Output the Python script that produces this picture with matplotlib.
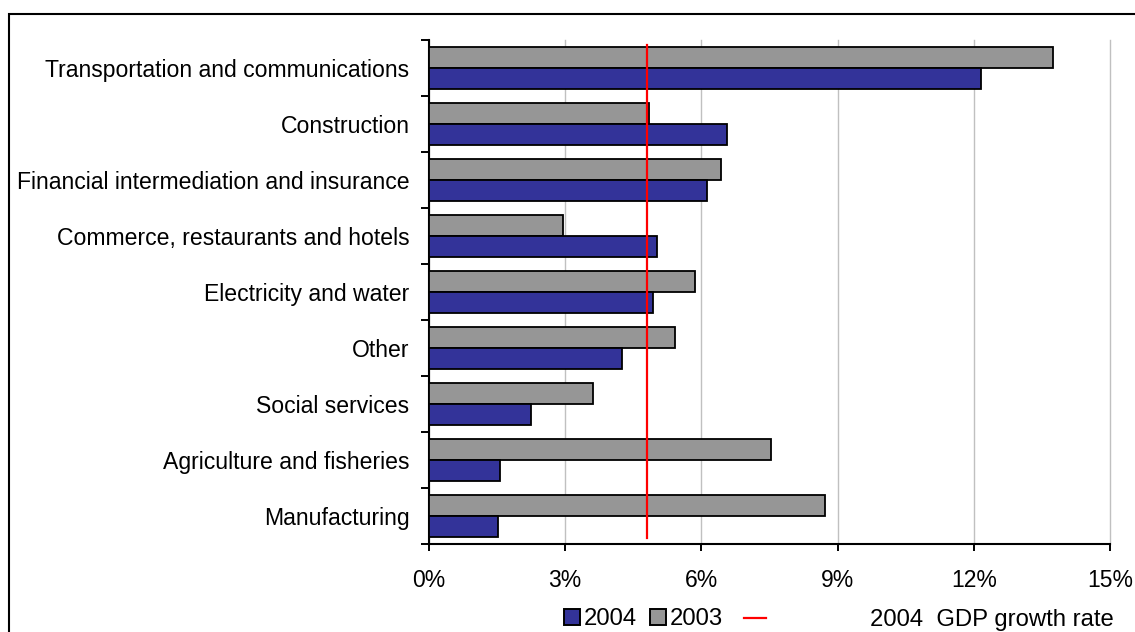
import matplotlib
matplotlib.use("Agg")
import matplotlib.pyplot as plt
import numpy as np
from matplotlib.lines import Line2D
from matplotlib.patches import Rectangle
from matplotlib.ticker import FixedLocator, FuncFormatter

plt.rcParams['font.family'] = ['Liberation Sans', 'DejaVu Sans']

# Sector growth rates (%), listed top to bottom
sectors = [
    "Transportation and communications",
    "Construction",
    "Financial intermediation and insurance",
    "Commerce, restaurants and hotels",
    "Electricity and water",
    "Other",
    "Social services",
    "Agriculture and fisheries",
    "Manufacturing",
]
growth_2003 = [13.74, 4.84, 6.43, 2.95, 5.86, 5.42, 3.61, 7.54, 8.73]
growth_2004 = [12.15, 6.56, 6.12, 5.02, 4.93, 4.26, 2.24, 1.57, 1.53]
gdp_growth_2004 = 4.80
x_ticks = [0, 3, 6, 9, 12, 15]

W, H = 1135, 632
fig = plt.figure(figsize=(W / 100, H / 100), dpi=100)
ax = fig.add_axes([429 / W, 1 - 544 / H, (1110 - 429) / W, (544 - 40) / H])

BLUE = "#333399"
GREY = "#969696"
FS_TICK = 16.5
FS_CAT = 16.6
FS_LEG = 17.2

y = np.arange(len(sectors))
h = 0.38
ax.barh(y - h / 2, growth_2003, height=h, color=GREY, edgecolor="black",
        linewidth=1.3, zorder=3)
ax.barh(y + h / 2, growth_2004, height=h, color=BLUE, edgecolor="black",
        linewidth=1.3, zorder=3)
ax.axvline(gdp_growth_2004, ymin=0.012, ymax=0.99, color="red", lw=1.6, zorder=4)

ax.set_xlim(0, 15)
ax.set_ylim(len(sectors) - 0.5, -0.5)

ax.xaxis.set_major_locator(FixedLocator(x_ticks))
ax.xaxis.set_major_formatter(FuncFormatter(lambda v, p: f"{v:.0f}%"))
ax.tick_params(axis="x", direction="out", length=5, width=1.4, pad=13,
               labelsize=FS_TICK)
ax.grid(axis="x", color="#c0c0c0", lw=1.0, zorder=0)
for gl in ax.get_xgridlines():
    gl.set_clip_on(False)

ax.set_yticks(y)
ax.set_yticklabels(sectors)
ax.set_yticks(np.arange(len(sectors) + 1) - 0.5, minor=True)
ax.tick_params(axis="y", which="major", length=0, pad=14, labelsize=FS_CAT)
ax.tick_params(axis="y", which="minor", direction="out", length=6, width=1.4)

for s in ("top", "right"):
    ax.spines[s].set_visible(False)
for s in ("left", "bottom"):
    ax.spines[s].set_linewidth(1.5)

# Outer chart frame
fig.patches.append(Rectangle((8.5 / W, -0.1), 1.2, 1.1 - 13.5 / H,
                             transform=fig.transFigure, fill=False,
                             edgecolor="black", lw=1.5, clip_on=False))

sq = dict(marker="s", linestyle="none", markersize=11,
          markeredgecolor="black", markeredgewidth=1.4)
h04 = Line2D([], [], markerfacecolor=BLUE, **sq)
h03 = Line2D([], [], markerfacecolor=GREY, **sq)
leg1 = fig.legend([h04, h03], ["2004", "2003"], ncol=2, frameon=False,
                  fontsize=FS_LEG, loc="center left",
                  bbox_to_anchor=(561 / W, 1 - 619 / H),
                  handlelength=0.92, handletextpad=0.05, columnspacing=0.4,
                  borderpad=0, borderaxespad=0)
hline = Line2D([], [], color="red", lw=1.6)
leg2 = fig.legend([hline], ["2004  GDP growth rate"], frameon=False,
                  fontsize=FS_LEG, loc="center left",
                  bbox_to_anchor=(744 / W, 1 - 620 / H),
                  handlelength=0.92, handletextpad=4.35,
                  borderpad=0, borderaxespad=0)

fig.savefig("out.png", dpi=100)
